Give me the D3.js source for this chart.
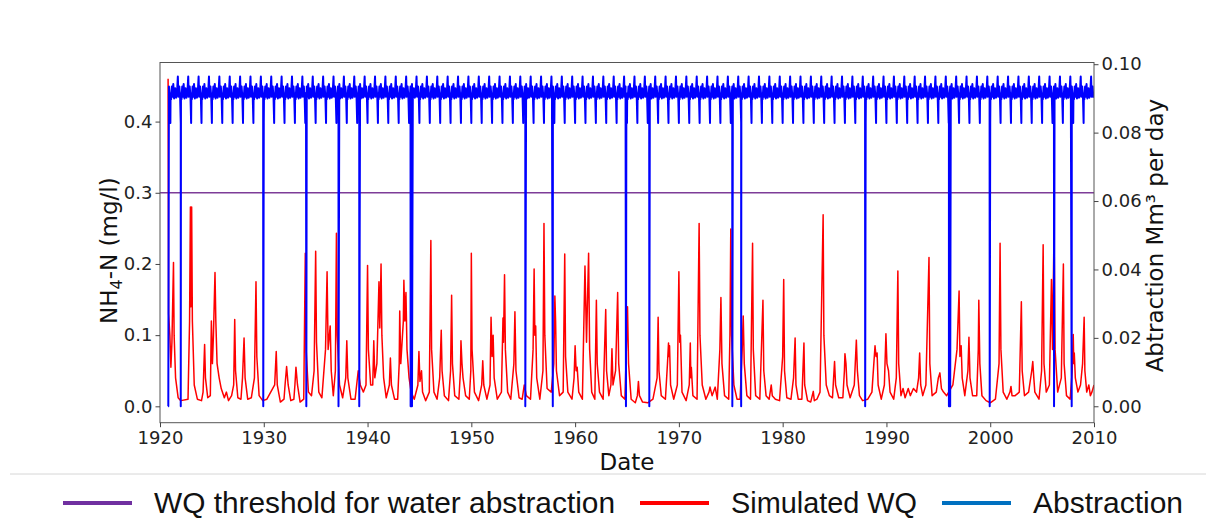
<!DOCTYPE html>
<html>
<head>
<meta charset="utf-8">
<script src="https://cdn.jsdelivr.net/npm/d3@7"></script>
<style>
  body { margin: 0; background: #fff; }
  svg { display: block; }
</style>
</head>
<body>
<svg id="chart" width="1206" height="518"></svg>
<script>
// ---- data -------------------------------------------------------------
const xTickYears = [1920, 1930, 1940, 1950, 1960, 1970, 1980, 1990, 2000, 2010];
const wqTicks = [0.0, 0.1, 0.2, 0.3, 0.4];
const abstractionTicks = [0.00, 0.02, 0.04, 0.06, 0.08, 0.10];
const wqThreshold = 0.3;

// Simulated NH4-N (mg/l): [decimal year, value]
const wqSeries = [
  [1920.78, 0.46], [1920.83, 0.13], [1920.95, 0.10], [1921.05, 0.055], [1921.15, 0.09], [1921.3, 0.202], [1921.36, 0.10], [1921.5, 0.04], [1921.75, 0.012], [1922.0, 0.008],
  [1922.7, 0.01], [1922.85, 0.12], [1922.93, 0.28], [1922.98, 0.14], [1923.05, 0.28], [1923.12, 0.12], [1923.3, 0.03], [1923.6, 0.01], [1924.0, 0.008],
  [1924.15, 0.02], [1924.3, 0.087], [1924.38, 0.04], [1924.6, 0.012], [1924.85, 0.015],
  [1924.95, 0.12], [1925.05, 0.06], [1925.15, 0.10], [1925.3, 0.188], [1925.38, 0.12], [1925.5, 0.06], [1925.7, 0.04], [1925.9, 0.025], [1926.2, 0.012], [1926.4, 0.02], [1926.6, 0.008], [1926.9, 0.015],
  [1927.1, 0.03], [1927.2, 0.122], [1927.28, 0.05], [1927.5, 0.012], [1927.8, 0.01],
  [1927.95, 0.04], [1928.1, 0.096], [1928.2, 0.04], [1928.45, 0.01], [1928.8, 0.012],
  [1929.1, 0.04], [1929.25, 0.175], [1929.33, 0.07], [1929.55, 0.015], [1929.9, 0.008], [1930.3, 0.01],
  [1931.05, 0.03], [1931.2, 0.077], [1931.3, 0.03], [1931.6, 0.006], [1931.95, 0.01],
  [1932.05, 0.03], [1932.2, 0.056], [1932.35, 0.03], [1932.6, 0.008], [1932.9, 0.01],
  [1933.0, 0.03], [1933.1, 0.055], [1933.25, 0.03], [1933.5, 0.006], [1933.85, 0.01],
  [1934.0, 0.215], [1934.08, 0.08], [1934.3, 0.02], [1934.6, 0.015], [1934.85, 0.05],
  [1935.0, 0.218], [1935.08, 0.09], [1935.3, 0.02], [1935.6, 0.012],
  [1935.95, 0.08], [1936.1, 0.189], [1936.2, 0.08], [1936.4, 0.113], [1936.5, 0.05], [1936.7, 0.015],
  [1936.9, 0.05], [1937.0, 0.243], [1937.08, 0.10], [1937.3, 0.03], [1937.6, 0.012],
  [1937.9, 0.04], [1938.0, 0.092], [1938.1, 0.04], [1938.4, 0.01], [1938.8, 0.01],
  [1939.1, 0.05], [1939.3, 0.03], [1939.6, 0.02], [1939.85, 0.03],
  [1940.0, 0.198], [1940.08, 0.08], [1940.3, 0.03], [1940.5, 0.03], [1940.6, 0.092], [1940.7, 0.04], [1940.9, 0.06],
  [1941.1, 0.175], [1941.18, 0.11], [1941.3, 0.20], [1941.38, 0.10], [1941.55, 0.04], [1941.8, 0.012],
  [1942.1, 0.03], [1942.2, 0.068], [1942.3, 0.03], [1942.6, 0.01], [1942.9, 0.01],
  [1943.05, 0.06], [1943.1, 0.134], [1943.2, 0.06], [1943.45, 0.12], [1943.5, 0.177], [1943.6, 0.12], [1943.7, 0.16], [1943.8, 0.08], [1944.0, 0.04], [1944.2, 0.02],
  [1944.5, 0.01], [1944.85, 0.03], [1944.95, 0.077], [1945.05, 0.035], [1945.2, 0.05], [1945.3, 0.02], [1945.6, 0.008], [1945.95, 0.02],
  [1946.1, 0.233], [1946.17, 0.08], [1946.4, 0.02], [1946.7, 0.01], [1946.95, 0.04],
  [1947.1, 0.107], [1947.18, 0.05], [1947.4, 0.015], [1947.8, 0.008],
  [1948.0, 0.05], [1948.1, 0.156], [1948.18, 0.06], [1948.4, 0.015], [1948.8, 0.01],
  [1948.95, 0.05], [1949.0, 0.092], [1949.1, 0.06], [1949.2, 0.04], [1949.45, 0.015], [1949.8, 0.01],
  [1949.95, 0.05], [1950.0, 0.215], [1950.07, 0.08], [1950.3, 0.02], [1950.7, 0.008],
  [1951.0, 0.03], [1951.1, 0.064], [1951.2, 0.03], [1951.5, 0.01], [1951.8, 0.03],
  [1951.9, 0.125], [1952.0, 0.07], [1952.1, 0.10], [1952.2, 0.04], [1952.5, 0.01], [1952.9, 0.02],
  [1953.05, 0.124], [1953.1, 0.09], [1953.2, 0.185], [1953.28, 0.08], [1953.5, 0.02], [1953.8, 0.01],
  [1954.1, 0.06], [1954.2, 0.133], [1954.3, 0.05], [1954.6, 0.012], [1954.9, 0.01], [1955.1, 0.03], [1955.3, 0.015], [1955.7, 0.01],
  [1955.95, 0.08], [1956.05, 0.193], [1956.12, 0.10], [1956.2, 0.113], [1956.3, 0.04], [1956.6, 0.01], [1956.9, 0.05],
  [1957.0, 0.257], [1957.08, 0.10], [1957.3, 0.025], [1957.7, 0.02],
  [1957.95, 0.06], [1958.05, 0.155], [1958.12, 0.12], [1958.2, 0.05], [1958.5, 0.015], [1958.85, 0.02],
  [1959.0, 0.214], [1959.08, 0.07], [1959.3, 0.02], [1959.7, 0.01],
  [1959.9, 0.04], [1960.0, 0.085], [1960.1, 0.05], [1960.2, 0.055], [1960.35, 0.02], [1960.7, 0.01],
  [1960.95, 0.197], [1961.1, 0.09], [1961.3, 0.215], [1961.4, 0.08], [1961.6, 0.02], [1961.9, 0.01],
  [1962.05, 0.149], [1962.13, 0.06], [1962.35, 0.02], [1962.7, 0.01],
  [1962.95, 0.136], [1963.03, 0.05], [1963.25, 0.015], [1963.45, 0.03], [1963.55, 0.081], [1963.65, 0.03], [1963.9, 0.05],
  [1964.1, 0.16], [1964.2, 0.06], [1964.45, 0.015], [1964.8, 0.01],
  [1965.05, 0.14], [1965.15, 0.06], [1965.4, 0.01], [1965.8, 0.005],
  [1966.0, 0.015], [1966.1, 0.035], [1966.2, 0.015], [1966.5, 0.006], [1967.0, 0.005], [1967.5, 0.01],
  [1967.9, 0.04], [1968.0, 0.125], [1968.08, 0.05], [1968.3, 0.015], [1968.7, 0.01],
  [1968.9, 0.06], [1969.0, 0.089], [1969.05, 0.07], [1969.1, 0.085], [1969.2, 0.03], [1969.5, 0.01], [1969.85, 0.03],
  [1970.0, 0.189], [1970.08, 0.09], [1970.15, 0.10], [1970.3, 0.02], [1970.7, 0.008],
  [1971.0, 0.03], [1971.1, 0.089], [1971.15, 0.04], [1971.2, 0.055], [1971.35, 0.015], [1971.75, 0.01],
  [1971.95, 0.257], [1972.03, 0.10], [1972.25, 0.03], [1972.6, 0.01], [1972.9, 0.02], [1973.0, 0.027], [1973.2, 0.015], [1973.5, 0.027], [1973.7, 0.01],
  [1973.95, 0.08], [1974.05, 0.153], [1974.15, 0.06], [1974.4, 0.015], [1974.8, 0.01],
  [1974.92, 0.10], [1975.0, 0.249], [1975.08, 0.10], [1975.3, 0.03], [1975.6, 0.01], [1975.9, 0.01],
  [1976.1, 0.08], [1976.2, 0.127], [1976.3, 0.06], [1976.55, 0.015], [1976.9, 0.01],
  [1977.1, 0.229], [1977.17, 0.08], [1977.4, 0.015], [1977.8, 0.01],
  [1978.1, 0.149], [1978.18, 0.05], [1978.4, 0.015], [1978.7, 0.01], [1978.9, 0.03], [1979.0, 0.015], [1979.3, 0.01], [1979.7, 0.008],
  [1980.0, 0.07], [1980.1, 0.178], [1980.18, 0.05], [1980.4, 0.012], [1980.8, 0.01],
  [1981.05, 0.04], [1981.2, 0.096], [1981.28, 0.03], [1981.5, 0.01], [1981.85, 0.01],
  [1982.05, 0.089], [1982.12, 0.03], [1982.4, 0.008], [1982.7, 0.006], [1982.95, 0.021], [1983.05, 0.008], [1983.3, 0.01], [1983.6, 0.02],
  [1983.9, 0.269], [1983.97, 0.10], [1984.2, 0.03], [1984.5, 0.015], [1984.8, 0.012],
  [1985.0, 0.063], [1985.1, 0.03], [1985.4, 0.012], [1985.8, 0.012],
  [1985.95, 0.05], [1986.0, 0.074], [1986.1, 0.06], [1986.2, 0.03], [1986.5, 0.012], [1986.9, 0.03],
  [1987.1, 0.093], [1987.2, 0.05], [1987.4, 0.015], [1987.7, 0.008], [1988.2, 0.01], [1988.6, 0.02],
  [1988.9, 0.085], [1989.0, 0.07], [1989.1, 0.075], [1989.2, 0.03], [1989.5, 0.01], [1989.8, 0.03],
  [1989.95, 0.102], [1990.05, 0.06], [1990.2, 0.05], [1990.35, 0.02], [1990.7, 0.01], [1990.95, 0.04],
  [1991.1, 0.19], [1991.18, 0.06], [1991.4, 0.015], [1991.6, 0.025], [1991.8, 0.012], [1992.1, 0.025], [1992.3, 0.015], [1992.6, 0.025], [1992.9, 0.02],
  [1993.1, 0.04], [1993.2, 0.075], [1993.3, 0.03], [1993.5, 0.015], [1993.8, 0.03],
  [1994.1, 0.209], [1994.18, 0.06], [1994.4, 0.015], [1994.8, 0.02], [1995.0, 0.04], [1995.15, 0.047], [1995.3, 0.025], [1995.5, 0.02], [1995.8, 0.015], [1996.0, 0.02], [1996.4, 0.03],
  [1996.8, 0.08], [1997.0, 0.162], [1997.08, 0.07], [1997.2, 0.085], [1997.3, 0.04], [1997.55, 0.015],
  [1997.85, 0.05], [1997.95, 0.097], [1998.05, 0.04], [1998.3, 0.015], [1998.7, 0.015],
  [1998.85, 0.08], [1998.9, 0.149], [1999.0, 0.06], [1999.2, 0.015], [1999.6, 0.008], [2000.0, 0.005], [2000.5, 0.01],
  [2000.85, 0.06], [2000.95, 0.229], [2001.03, 0.08], [2001.25, 0.02], [2001.6, 0.01], [2001.9, 0.02], [2002.0, 0.028], [2002.1, 0.015], [2002.4, 0.015], [2002.8, 0.02],
  [2003.0, 0.147], [2003.08, 0.05], [2003.3, 0.015], [2003.7, 0.02],
  [2004.0, 0.05], [2004.1, 0.063], [2004.2, 0.04], [2004.3, 0.02], [2004.7, 0.01], [2004.95, 0.05],
  [2005.1, 0.227], [2005.18, 0.06], [2005.4, 0.02], [2005.7, 0.03], [2005.9, 0.178], [2006.0, 0.08], [2006.15, 0.249], [2006.25, 0.08], [2006.5, 0.02], [2006.85, 0.04],
  [2007.05, 0.20], [2007.12, 0.06], [2007.35, 0.015], [2007.7, 0.01], [2007.9, 0.05],
  [2008.0, 0.101], [2008.05, 0.06], [2008.1, 0.075], [2008.2, 0.04], [2008.45, 0.02], [2008.7, 0.03], [2008.9, 0.06],
  [2009.05, 0.125], [2009.12, 0.05], [2009.3, 0.02], [2009.5, 0.03], [2009.65, 0.015], [2009.8, 0.02], [2010.0, 0.03]
];

// Abstraction (Mm3 per day): typical within-year pattern [fraction of year, value]
const abstractionAnnualProfile = [
  [0.00, 0.0828], [0.02, 0.0915], [0.07, 0.0898], [0.14, 0.0935], [0.20, 0.0905], [0.28, 0.0942],
  [0.36, 0.0900], [0.46, 0.0930], [0.56, 0.0902], [0.66, 0.0928], [0.72, 0.0964], [0.77, 0.0905],
  [0.86, 0.0935], [0.94, 0.0902]
];
const abstractionStart = 1920.78;
// dates on which abstraction is switched off completely
const shutdownDates = [
  1920.8, 1922.0, 1929.95, 1934.1, 1937.2, 1939.2, 1944.15, 1944.28, 1955.2, 1957.85,
  1964.9, 1967.15, 1975.15, 1976.0, 1987.95, 1996.02, 1996.14, 1999.95, 2006.15, 2007.85
];

const legendItems = [
  { label: "WQ threshold for water abstraction", color: "#7030a0" },
  { label: "Simulated WQ", color: "#ff0000" },
  { label: "Abstraction", color: "#0070c0" }
];

// ---- build the abstraction series from the annual pattern and shutdowns ----
const abstractionSeries = [[abstractionStart, 0]];
for (let yr = 1920; yr < 2010; yr++) {
  abstractionAnnualProfile.forEach(([f, v]) => {
    const t = yr + f;
    if (t > abstractionStart && t <= 2010) abstractionSeries.push([t, v]);
  });
}
shutdownDates.forEach(s => abstractionSeries.push([s, 0]));
abstractionSeries.sort((a, b) => a[0] - b[0]);

// ---- layout -----------------------------------------------------------
const svg = d3.select("#chart");
const plot = { left: 160, right: 1094, top: 62.5, bottom: 422.7 };

const x = d3.scaleLinear().domain([1920, 2010]).range([plot.left, plot.right]);
const yWQ = d3.scaleLinear().domain([-0.023, 0.483]).range([plot.bottom, plot.top]);
const yAbs = d3.scaleLinear().domain([-0.0048, 0.1005]).range([plot.bottom, plot.top]);

const axisFont = "'DejaVu Sans', sans-serif";

svg.append("defs").append("clipPath").attr("id", "plotClip")
  .append("rect")
  .attr("x", plot.left).attr("y", plot.top)
  .attr("width", plot.right - plot.left).attr("height", plot.bottom - plot.top);

const marks = svg.append("g").attr("clip-path", "url(#plotClip)");

// threshold
marks.append("line")
  .attr("x1", x(1920)).attr("x2", x(2010))
  .attr("y1", yWQ(wqThreshold)).attr("y2", yWQ(wqThreshold))
  .attr("stroke", "#7d3c98").attr("stroke-width", 1.6);

// simulated water quality
marks.append("path")
  .datum(wqSeries)
  .attr("fill", "none")
  .attr("stroke", "#ff0000")
  .attr("stroke-width", 1.5)
  .attr("stroke-linejoin", "round")
  .attr("d", d3.line().x(d => x(d[0])).y(d => yWQ(d[1])));

// abstraction
marks.append("path")
  .datum(abstractionSeries)
  .attr("fill", "none")
  .attr("stroke", "#0000ff")
  .attr("stroke-width", 2)
  .attr("stroke-linejoin", "round")
  .attr("d", d3.line().x(d => x(d[0])).y(d => yAbs(d[1])));

// frame
svg.append("rect")
  .attr("x", plot.left).attr("y", plot.top)
  .attr("width", plot.right - plot.left).attr("height", plot.bottom - plot.top)
  .attr("fill", "none").attr("stroke", "#555").attr("stroke-width", 1);

// axes
function styleAxis(g) {
  g.select(".domain").remove();
  g.selectAll(".tick line").attr("stroke", "#444");
  g.selectAll(".tick text").attr("fill", "#222")
    .style("font-family", axisFont).style("font-size", "18px");
}

svg.append("g")
  .attr("transform", `translate(0,${plot.bottom})`)
  .call(d3.axisBottom(x).tickValues(xTickYears).tickFormat(d3.format("d")).tickSize(4.5).tickPadding(4))
  .call(styleAxis);

svg.append("g")
  .attr("transform", `translate(${plot.left},0)`)
  .call(d3.axisLeft(yWQ).tickValues(wqTicks).tickFormat(d3.format(".1f")).tickSize(4.5).tickPadding(3))
  .call(styleAxis);

svg.append("g")
  .attr("transform", `translate(${plot.right},0)`)
  .call(d3.axisRight(yAbs).tickValues(abstractionTicks).tickFormat(d3.format(".2f")).tickSize(4.5).tickPadding(3))
  .call(styleAxis);

// axis titles
const midY = (plot.top + plot.bottom) / 2;
svg.append("text")
  .attr("x", (plot.left + plot.right) / 2).attr("y", 470)
  .attr("text-anchor", "middle")
  .style("font-family", axisFont).style("font-size", "23px").attr("fill", "#111")
  .text("Date");

const leftTitle = svg.append("text")
  .attr("transform", `translate(117,${midY + 8}) rotate(-90)`)
  .attr("text-anchor", "middle")
  .style("font-family", axisFont).style("font-size", "23px").attr("fill", "#111");
leftTitle.append("tspan").text("NH");
leftTitle.append("tspan").attr("dy", 5).style("font-size", "16px").text("4");
leftTitle.append("tspan").attr("dy", -5).text("-N (mg/l)");

svg.append("text")
  .attr("transform", `translate(1163,${midY - 7}) rotate(-90)`)
  .attr("text-anchor", "middle")
  .style("font-family", axisFont).style("font-size", "23px").attr("fill", "#111")
  .text("Abtraction Mm³ per day");

// separator above the legend
svg.append("line")
  .attr("x1", 10).attr("x2", 1206).attr("y1", 474).attr("y2", 474)
  .attr("stroke", "#d6d6d6").attr("stroke-width", 1);

// legend
const legendFont = "'Liberation Sans Narrow', 'Liberation Sans', sans-serif";
const legendTextWidths = [461, 186, 150];
const legend = svg.append("g");
let lx = 63;
const ly = 503;
legendItems.forEach((item, i) => {
  legend.append("line")
    .attr("x1", lx).attr("x2", lx + 69).attr("y1", ly).attr("y2", ly)
    .attr("stroke", item.color).attr("stroke-width", 4);
  legend.append("text")
    .attr("x", lx + 91).attr("y", ly + 10)
    .attr("textLength", legendTextWidths[i]).attr("lengthAdjust", "spacingAndGlyphs")
    .style("font-family", legendFont).style("font-size", "29px").attr("fill", "#111")
    .text(item.label);
  lx += 91 + legendTextWidths[i] + 25;
});
</script>
</body>
</html>
